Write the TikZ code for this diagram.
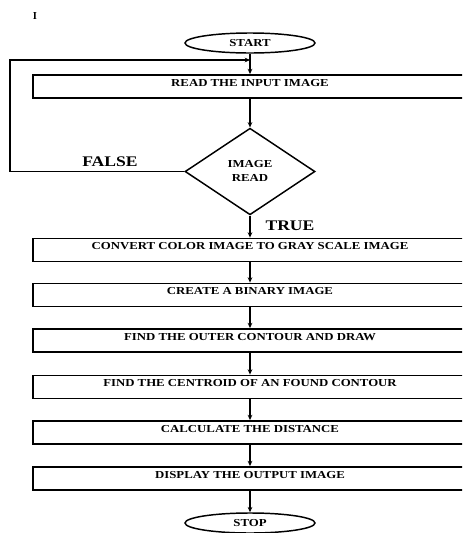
\documentclass[tikz,border=0pt]{standalone}
\usepackage{fontspec}
\setmainfont{Liberation Serif}
\newfontfamily\boxfont[FakeStretch=1.2]{Liberation Serif}
\usepackage{tikz}
\usetikzlibrary{arrows.meta, shapes.geometric, positioning}

\tikzset{
  stepbox/.style={draw, line width=1.1pt, minimum width=325.5pt, minimum height=17.5pt, inner sep=0pt, text height=6pt, text depth=6.6pt, font=\boxfont\bfseries\fontsize{8}{9}\selectfont},
  term/.style={draw, ellipse, line width=1.1pt, minimum width=97.5pt, minimum height=15pt, inner sep=0pt, font=\boxfont\bfseries\fontsize{8}{9}\selectfont},
  decide/.style={draw, diamond, aspect=1.5, line width=1.1pt, minimum width=97.5pt, minimum height=65pt, inner sep=0pt, font=\boxfont\bfseries\fontsize{8}{10.5}\selectfont},
  flow/.style={-{Stealth[length=4pt,width=3.5pt]}, line width=1.1pt},
  cond/.style={font=\boxfont\bfseries\fontsize{11}{12}\selectfont}
}

\begin{document}
\begin{tikzpicture}[x=0.75pt, y=-0.75pt]
    \useasboundingbox (0,0) rectangle (462,533);
    \clip (0,0) rectangle (462,533);
    \node[font=\bfseries\fontsize{8}{9}\selectfont] (mark) at (35,16) {I};
    % Start and first step
    \node[term] (start) at (250,43) {START};
    \coordinate (join) at (250,60);
    \node[stepbox] (read) at (250,86.5) {READ THE INPUT IMAGE};
    \node[decide] (check) at (250,171.5) {\raisebox{6.5pt}{\begin{tabular}{@{}c@{}}IMAGE\\READ\end{tabular}}};
    \coordinate (corner) at (10,171.5);
    % Processing steps
    \foreach \name/\y/\txt in {convert/250/CONVERT COLOR IMAGE TO GRAY SCALE IMAGE, create/295/CREATE A BINARY IMAGE, contour/340.5/FIND THE OUTER CONTOUR AND DRAW, centroid/387/FIND THE CENTROID OF AN FOUND CONTOUR, dist/432.5/CALCULATE THE DISTANCE, show/478.5/DISPLAY THE OUTPUT IMAGE} {
        \node[stepbox] (\name) at (250,\y) {\txt};
    }
    \node[term] (stop) at (250,523) {STOP};
    % Connectors
    \draw[flow] (start) -- (read);
    \draw[flow] (read) -- (check);
    \draw[flow] (check) -- (convert);
    \foreach \a/\b in {convert/create, create/contour, contour/centroid, centroid/dist, dist/show, show/stop} {
        \draw[flow] (\a) -- (\b);
    }
    \draw[flow] (check.west) -- (corner) |- (join);
    \node[cond] (no) at (110,162) {FALSE};
    \node[cond] (yes) at (290,226) {TRUE};
\end{tikzpicture}
\end{document}
